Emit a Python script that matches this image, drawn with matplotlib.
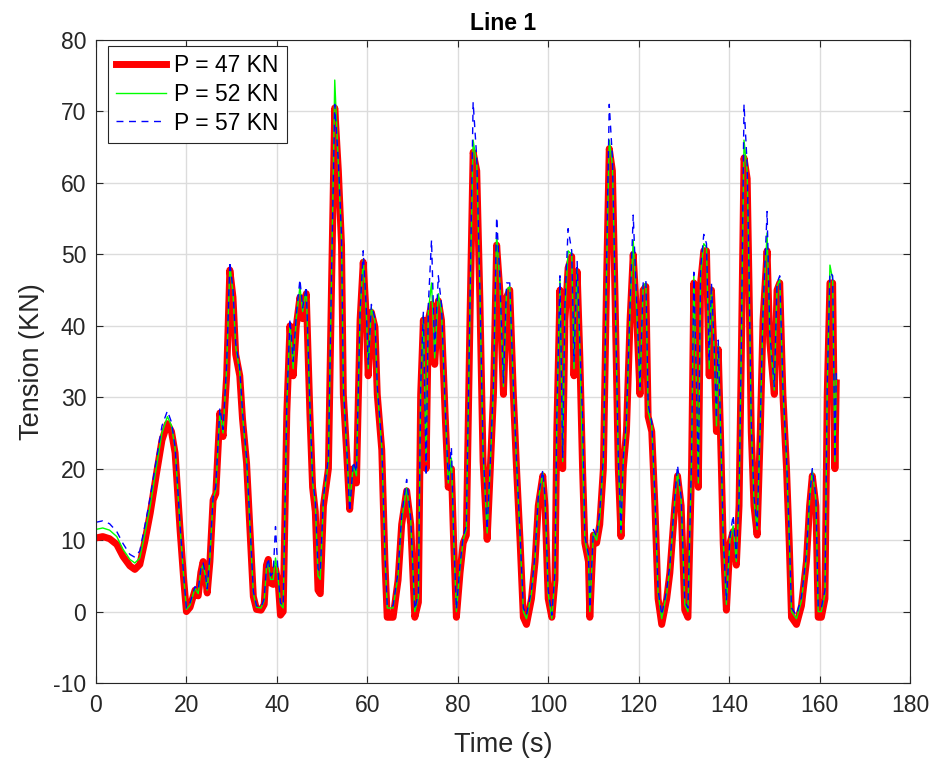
import numpy as np
import matplotlib.pyplot as plt

# tiempos (s)
t = [0.0, 1.5, 3.0, 4.6, 6.0, 7.5, 8.6, 9.7, 10.8, 12.0,
     13.4, 14.6, 15.8, 16.7, 17.5, 18.6, 19.4, 20.0, 20.8, 21.9,
     22.6, 23.2, 23.7, 24.2, 24.6, 25.2, 25.9, 26.5, 27.4, 28.1,
     28.9, 29.6, 30.3, 30.9, 31.8, 32.4, 33.3, 34.0, 34.8, 35.5,
     36.5, 37.2, 37.7, 38.1, 38.6, 39.2, 39.7, 40.3, 40.8, 41.4,
     42.2, 42.9, 43.6, 44.3, 45.1, 45.7, 46.5, 47.3, 47.9, 48.5,
     49.1, 49.6, 50.3, 51.4, 52.1, 52.8, 53.6, 54.3, 54.7, 55.4,
     56.1, 56.9, 57.6, 58.4, 59.1, 59.8, 60.2, 60.9, 61.7, 62.2,
     63.2, 63.9, 64.4, 65.7, 66.8, 67.6, 68.7, 69.6, 70.5, 71.3,
     71.8, 72.4, 73.0, 73.5, 74.2, 74.9, 75.7, 76.4, 77.2, 77.9,
     78.6, 79.1, 79.7, 80.5, 81.2, 81.9, 82.7, 83.4, 84.2, 84.9,
     85.6, 86.5, 87.2, 87.9, 88.6, 89.3, 90.1, 90.8, 91.5, 92.3,
     93.0, 93.8, 94.5, 95.2, 96.3, 97.1, 97.8, 98.8, 99.3, 100.0,
     100.8, 101.5, 101.9, 102.6, 103.2, 103.7, 104.4, 105.2, 105.7, 106.4,
     107.0, 107.6, 108.1, 108.9, 109.2, 110.0, 110.7, 111.4, 112.2, 112.9,
     113.5, 114.2, 114.8, 115.5, 116.1, 116.6, 117.3, 118.1, 118.8, 119.6,
     120.3, 121.0, 121.6, 122.1, 122.9, 123.6, 124.3, 125.1, 126.2, 126.9,
     128.0, 128.6, 129.4, 130.2, 130.9, 131.7, 132.2, 132.8, 133.2, 133.7,
     134.4, 135.0, 135.6, 136.1, 136.7, 137.2, 137.6, 138.3, 138.7, 139.4,
     140.2, 140.9, 141.6, 142.2, 142.7, 143.3, 144.0, 144.4, 144.9, 145.5,
     146.2, 146.9, 147.5, 148.4, 149.0, 150.0, 150.6, 151.2, 151.9, 152.7,
     153.3, 153.8, 154.9, 156.0, 157.1, 157.8, 158.4, 159.2, 159.7, 160.4,
     161.2, 161.7, 162.3, 162.9, 163.4, 163.7]

# tension (KN) para P = 47 KN
p47 = [10.3, 10.5, 10.2, 9.4, 7.7, 6.4, 5.9, 6.6, 9.8, 13.8,
       19.4, 24.0, 26.3, 25.2, 22.2, 11.4, 4.5, 0.0, 0.6, 3.0,
       2.2, 5.5, 7.0, 5.0, 2.6, 7.0, 15.6, 16.5, 27.8, 24.5,
       33.0, 47.8, 44.0, 36.0, 33.0, 27.0, 20.8, 12.0, 2.1, 0.3,
       0.2, 1.0, 6.5, 7.3, 4.0, 3.8, 6.0, 4.0, -0.5, 0.0,
       27.8, 40.0, 33.0, 40.0, 44.0, 41.0, 44.5, 27.8, 17.4, 14.0,
       3.0, 2.5, 14.8, 20.0, 46.0, 70.5, 61.7, 51.3, 30.4, 22.6,
       14.3, 20.0, 18.0, 40.8, 48.9, 40.8, 33.0, 41.9, 39.8, 30.4,
       22.6, 7.0, -0.8, -0.8, 4.4, 12.2, 16.9, 12.2, -0.8, 1.3,
       30.4, 40.8, 20.0, 40.8, 43.0, 34.6, 43.5, 40.8, 27.8, 17.4,
       20.0, 9.6, -0.8, 5.4, 9.6, 10.7, 40.8, 64.3, 61.7, 43.5,
       21.0, 10.1, 20.0, 30.4, 51.3, 45.0, 30.4, 44.0, 45.0, 30.4,
       20.0, 9.6, -0.8, -1.8, 1.8, 7.0, 14.8, 19.0, 14.8, 1.8,
       -0.8, 4.4, 25.2, 45.0, 20.0, 40.8, 48.1, 49.7, 33.0, 47.6,
       35.6, 20.0, 9.6, 7.0, -0.8, 10.7, 9.6, 12.2, 20.0, 46.0,
       64.8, 61.7, 43.5, 20.0, 10.5, 20.0, 25.2, 40.8, 50.0, 40.8,
       30.4, 45.0, 45.5, 27.3, 25.2, 14.8, 1.8, -1.8, 1.8, 5.4,
       14.8, 19.0, 14.8, 0.2, -0.8, 20.0, 46.0, 30.4, 17.4, 46.0,
       50.5, 50.5, 33.0, 45.0, 35.6, 25.2, 36.7, 20.0, 9.6, 0.2,
       9.6, 11.2, 6.5, 14.8, 35.6, 63.5, 60.6, 46.0, 25.2, 14.8,
       10.7, 25.2, 40.8, 50.5, 37.7, 30.4, 45.0, 46.0, 30.4, 20.0,
       9.6, -0.8, -1.8, 0.8, 7.0, 14.8, 19.0, 14.8, -0.8, -0.8,
       1.8, 30.4, 46.0, 46.0, 20.0, 32.0]

# tension (KN) para P = 52 KN
p52 = [11.5, 11.7, 11.4, 10.5, 8.7, 7.3, 6.8, 7.5, 10.8, 14.8,
       20.4, 25.0, 27.3, 26.0, 22.8, 11.8, 4.8, 0.3, 0.9, 3.3,
       2.5, 5.8, 6.5, 5.0, 3.0, 7.5, 15.8, 17.0, 28.0, 25.0,
       34.0, 48.5, 44.5, 37.0, 33.5, 27.5, 21.0, 12.5, 2.5, 0.6,
       0.5, 1.5, 6.0, 7.0, 4.5, 4.5, 7.5, 4.5, 1.0, 0.5,
       28.5, 40.5, 34.0, 41.0, 45.5, 42.0, 45.0, 28.5, 18.0, 15.0,
       5.0, 4.5, 15.5, 21.0, 47.0, 74.4, 62.5, 52.0, 31.0, 23.0,
       15.0, 20.5, 19.0, 41.5, 49.3, 41.5, 34.0, 42.5, 40.5, 31.0,
       23.0, 7.5, 0.5, 0.5, 5.0, 12.8, 17.3, 12.8, 0.0, 2.0,
       31.0, 41.5, 21.0, 42.0, 46.0, 35.5, 44.5, 42.0, 28.5, 18.0,
       21.5, 10.0, 0.0, 6.0, 10.0, 11.5, 42.0, 66.0, 62.5, 44.5,
       22.0, 11.0, 20.5, 31.0, 53.0, 46.0, 31.5, 45.0, 45.5, 31.0,
       20.5, 10.0, 0.0, -1.0, 2.5, 7.5, 15.5, 19.5, 15.5, 2.5,
       -1.0, 5.0, 26.0, 46.5, 21.0, 42.0, 50.5, 50.0, 34.0, 48.0,
       36.5, 21.0, 10.0, 7.5, 0.0, 11.0, 10.0, 13.0, 21.0, 47.0,
       66.0, 62.5, 44.5, 21.0, 11.0, 21.0, 26.0, 42.0, 52.0, 41.5,
       31.0, 45.5, 46.0, 28.0, 26.0, 15.5, 2.5, -1.0, 2.5, 6.0,
       15.5, 19.5, 15.5, 1.0, 0.0, 21.0, 47.0, 31.0, 18.0, 47.0,
       51.5, 51.0, 34.0, 45.5, 36.5, 26.0, 37.5, 21.0, 10.0, 1.0,
       10.0, 12.0, 7.0, 15.5, 36.5, 66.0, 61.5, 47.0, 26.0, 15.5,
       11.5, 26.0, 41.5, 53.0, 38.5, 31.0, 45.5, 46.5, 31.0, 21.0,
       10.0, 0.0, -1.0, 1.5, 7.5, 15.5, 19.8, 15.5, 0.0, 0.0,
       2.5, 31.0, 48.5, 46.5, 21.0, 33.0]

# tension (KN) para P = 57 KN
p57 = [12.5, 12.7, 12.3, 11.2, 9.5, 8.0, 7.6, 8.5, 12.0, 16.0,
       21.5, 26.0, 28.1, 26.5, 23.0, 12.0, 5.0, 0.5, 1.2, 3.5,
       3.0, 6.0, 6.8, 5.2, 3.2, 8.0, 16.0, 17.5, 28.5, 25.5,
       34.5, 49.0, 45.0, 37.5, 34.0, 28.0, 21.5, 13.0, 2.8, 0.8,
       0.6, 1.8, 6.2, 7.5, 5.0, 5.5, 11.9, 5.0, 1.2, 0.8,
       29.0, 41.0, 35.0, 41.5, 46.5, 42.5, 45.5, 29.0, 18.5, 15.5,
       6.0, 5.5, 16.0, 21.5, 47.5, 71.0, 63.0, 52.5, 31.5, 23.5,
       14.0, 21.0, 19.5, 42.0, 50.5, 42.0, 34.5, 43.0, 41.0, 31.5,
       23.5, 8.0, 0.8, 0.8, 5.5, 13.5, 18.5, 13.0, 0.3, 2.5,
       31.5, 42.0, 19.0, 43.0, 52.0, 36.0, 47.0, 43.0, 29.0, 18.5,
       23.0, 10.5, 0.3, 6.5, 10.5, 12.0, 43.0, 71.3, 63.5, 45.0,
       22.5, 11.5, 21.0, 32.0, 55.2, 47.0, 32.0, 46.0, 46.0, 31.5,
       21.0, 10.5, 0.5, -0.5, 3.0, 8.0, 16.0, 19.8, 16.0, 3.0,
       -0.5, 5.5, 27.0, 47.0, 21.5, 43.0, 53.6, 50.5, 35.0, 49.0,
       37.5, 27.0, 10.5, 8.0, 0.5, 11.5, 10.5, 14.0, 21.5, 48.0,
       71.0, 63.5, 45.0, 21.5, 11.5, 21.5, 27.0, 43.0, 55.5, 42.5,
       31.5, 46.0, 46.5, 29.0, 26.5, 16.0, 3.0, -0.5, 3.0, 6.5,
       16.0, 20.5, 16.0, 1.5, 0.5, 21.5, 47.5, 31.5, 18.5, 48.0,
       52.8, 51.5, 35.0, 46.0, 37.0, 27.0, 38.0, 21.5, 10.5, 1.5,
       10.5, 13.5, 7.5, 16.0, 37.0, 71.0, 62.5, 48.0, 26.5, 16.0,
       12.0, 26.5, 42.0, 56.0, 39.0, 31.5, 46.0, 47.0, 31.5, 21.5,
       10.5, 0.5, -0.5, 2.0, 8.0, 16.0, 20.0, 16.0, 0.5, 0.5,
       3.0, 31.5, 47.5, 47.0, 21.5, 33.5]

plt.rcParams['font.family'] = ['Liberation Sans', 'DejaVu Sans']
plt.rcParams['axes.unicode_minus'] = False

fig = plt.figure(figsize=(9.39, 7.67), dpi=100)
ax = fig.add_axes([0.1022, 0.1095, 0.8669, 0.8383])

ax.plot(t, p47, '-', color='#ff0000', lw=5, label='P = 47 KN', solid_joinstyle='round')
ax.plot(t, p52, '-', color='#00ff00', lw=1.0, label='P = 52 KN')
ax.plot(t, p57, color='#0000ff', lw=1.0, linestyle=(0, (5, 4)), label='P = 57 KN')

ax.set_xlim(0, 180)
ax.set_ylim(-10, 80)
ax.set_xticks(np.arange(0, 181, 20))
ax.set_yticks(np.arange(-10, 81, 10))
ax.grid(True, color='#dcdcdc', lw=1.0)
ax.set_axisbelow(True)
ax.tick_params(direction='in', top=True, right=True, labelsize=16.5, colors='#262626', length=5)
ax.tick_params(axis='x', pad=8)
ax.tick_params(axis='y', pad=7)
for s in ax.spines.values():
    s.set_color('#262626')
    s.set_linewidth(0.8)

ax.set_xlabel('Time (s)', fontsize=19.5, color='#262626', labelpad=11)
ax.set_ylabel('Tension (KN)', fontsize=19.5, color='#262626', labelpad=6)
ax.set_title('Line 1', fontsize=16.5, fontweight='bold', pad=7)

leg = ax.legend(loc='upper left', bbox_to_anchor=(12 / 814, 1 - 6 / 643), borderaxespad=0,
                fontsize=16.5, handlelength=2.2, handletextpad=0.35, fancybox=False,
                edgecolor='#262626', framealpha=1, labelspacing=0.25, borderpad=0.35)
leg.get_frame().set_linewidth(0.8)

fig.savefig('out.png', dpi=100)
